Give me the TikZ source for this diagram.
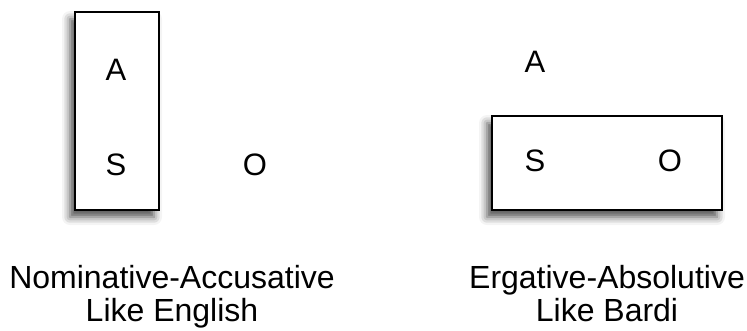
\documentclass[tikz,border=0pt]{standalone}
\usepackage{fontspec}
\setmainfont{Liberation Sans}
\usetikzlibrary{shadows.blur}
\begin{document}
\begin{tikzpicture}[x=1pt,y=-1pt,
  grp/.style={draw=black,line width=1.6pt,fill=white,
    blur shadow={shadow xshift=-5pt,shadow yshift=-7pt,shadow blur radius=8pt,shadow opacity=70}},
  role/.style={font=\fontsize{31}{32}\selectfont,inner sep=0pt},
  caption/.style={font=\fontsize{32}{38}\selectfont,inner sep=0pt,anchor=base}]
\useasboundingbox (0,0) rectangle (747,330);
\path[grp] (75,12) rectangle (159,210);
\path[grp] (492,116) rectangle (722,210);
\node[role] (a1) at (116,70) {A};
\node[role] (s1) at (116,165) {S};
\node[role] (o1) at (255,165) {O};
\node[role] (a2) at (535,62) {A};
\node[role] (s2) at (535,161) {S};
\node[role] (o2) at (670,161) {O};
\node[caption] (c1) at (172,288) {Nominative-Accusative};
\node[caption] (c1b) at (172,321) {Like English};
\node[caption] (c2) at (607,288) {Ergative-Absolutive};
\node[caption] (c2b) at (607,321) {Like Bardi};
\end{tikzpicture}
\end{document}
